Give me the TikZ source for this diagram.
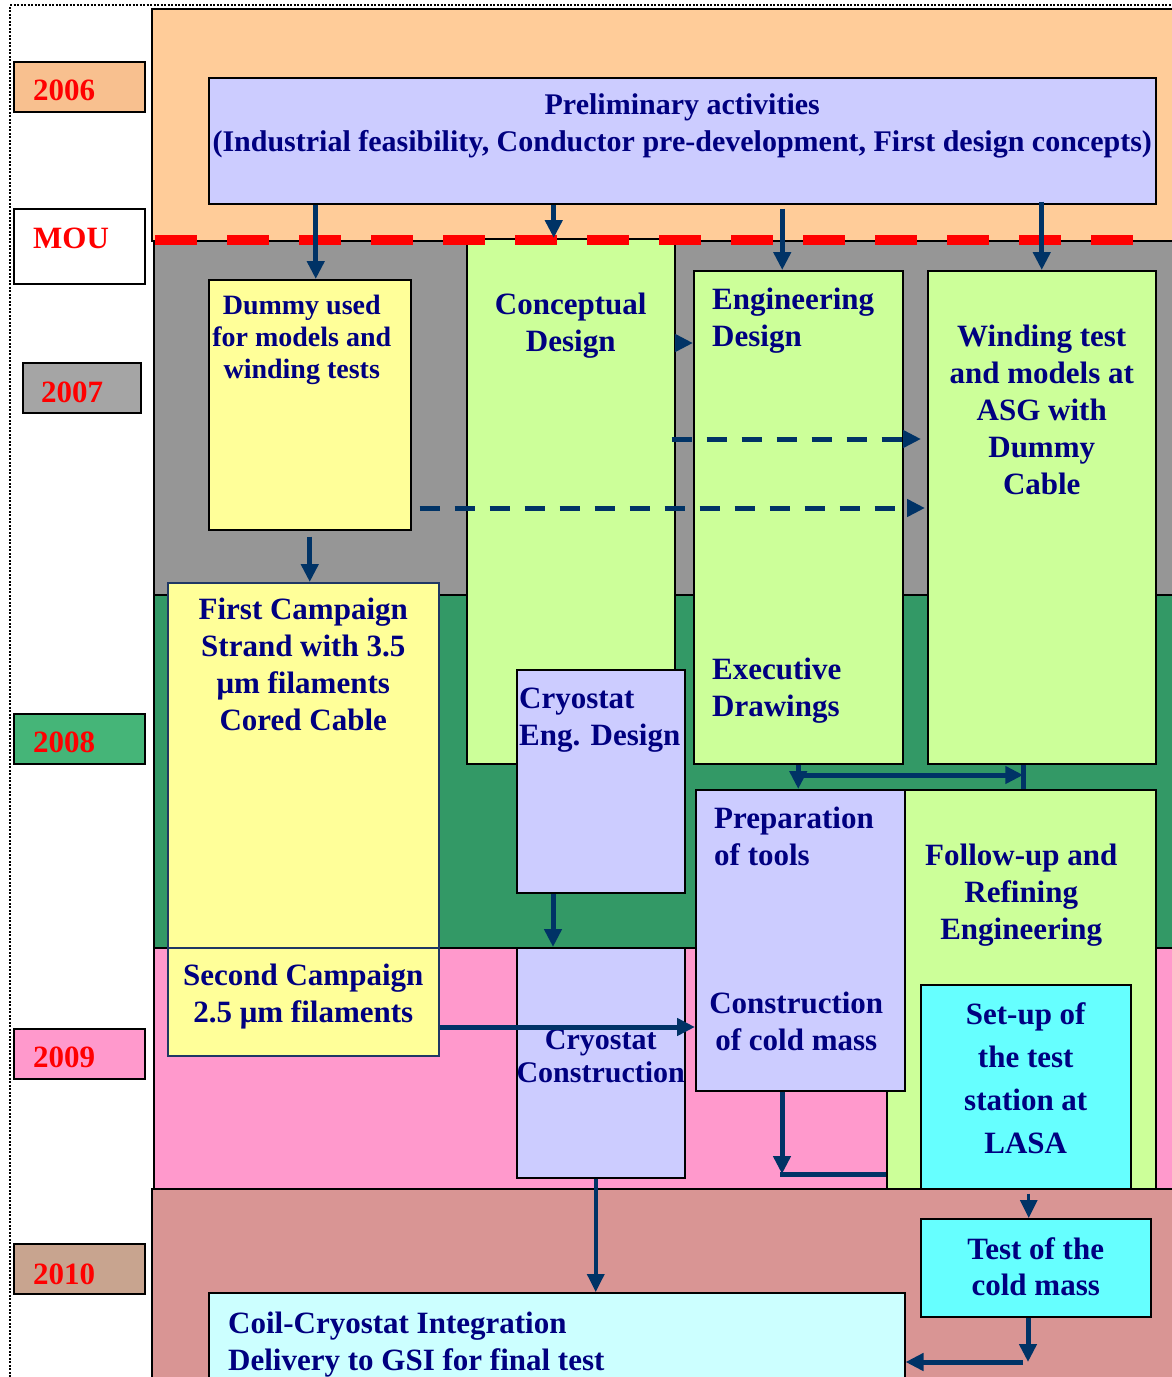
\documentclass[tikz,border=0pt]{standalone}
\usepackage{fontspec}
\setmainfont{Liberation Serif}
\usetikzlibrary{positioning,arrows.meta}
\usepackage{xcolor}

\definecolor{band06}{HTML}{FFCC99}
\definecolor{band07}{HTML}{969696}
\definecolor{band08}{HTML}{339966}
\definecolor{band09}{HTML}{FF99CC}
\definecolor{band10}{HTML}{D99594}
\definecolor{yr06}{HTML}{F8C08F}
\definecolor{yr07}{HTML}{A5A5A5}
\definecolor{yr08}{HTML}{45B578}
\definecolor{yr10}{HTML}{C8A48F}
\definecolor{lav}{HTML}{CCCCFF}
\definecolor{lemon}{HTML}{FFFF99}
\definecolor{lime}{HTML}{CCFF99}
\definecolor{aqua}{HTML}{66FFFF}
\definecolor{paleaqua}{HTML}{CCFFFF}
\definecolor{navytxt}{HTML}{000080}
\definecolor{flowblue}{HTML}{003366}
\definecolor{edgeblue}{HTML}{1F3864}

\begin{document}
\begin{tikzpicture}[x=1pt, y=-1pt, every node/.style={inner sep=0pt},
    band/.style={draw, line width=1.5pt, anchor=north west},
    stagebox/.style={draw, line width=1.5pt, anchor=north west},
    yearbox/.style={draw, line width=2pt, anchor=north west, minimum height=50pt},
    yeartxt/.style={font=\fontsize{31}{37}\selectfont\bfseries, text=red},
    txt/.style={font=\fontsize{31}{37}\selectfont\bfseries, text=navytxt, align=center},
    ltxt/.style={txt, align=left},
    flow/.style={draw=flowblue, line width=5pt},
    arr/.style={flow, -{Triangle[length=18pt,width=17pt]}},
    dasharr/.style={arr, dash pattern=on 20pt off 15pt}]
    \useasboundingbox (0,0) rectangle (1171,1377);
    \fill[white] (0,0) rectangle (1171,1377);

    % year bands
    \node[band, fill=band06, minimum width=1024pt, minimum height=232pt] (b06) at (151,8) {};
    \node[band, fill=band07, minimum width=1022pt, minimum height=354pt] (b07) at (153,240) {};
    \node[band, fill=band08, minimum width=1022pt, minimum height=353pt] (b08) at (153,594) {};
    \node[band, fill=band09, minimum width=1022pt, minimum height=241pt] (b09) at (153,947) {};
    \node[band, fill=band10, minimum width=1024pt, minimum height=212pt] (b10) at (151,1188) {};
    \draw[line width=2.5pt, dash pattern=on 2pt off 1.5pt] (10,1377) -- (10,5) -- (1171,5);

    % year labels
    \node[yearbox, fill=yr06, minimum width=131pt] (y06) at (13,61) {};
    \node[yeartxt, right=20pt of y06.west, yshift=-3pt] (t06) {2006};
    \node[yearbox, fill=white, minimum width=131pt, minimum height=75pt] (mou) at (13,208) {};
    \node[yeartxt, right=20pt of mou.west, yshift=8.5pt] (tmou) {MOU};
    \node[yearbox, fill=yr07, minimum width=118pt] (y07) at (22,362) {};
    \node[yeartxt, right=19pt of y07.west, yshift=-4pt] (t07) {2007};
    \node[yearbox, fill=yr08, minimum width=131pt] (y08) at (13,713) {};
    \node[yeartxt, right=20pt of y08.west, yshift=-3.5pt] (t08) {2008};
    \node[yearbox, fill=band09, minimum width=131pt] (y09) at (13,1028) {};
    \node[yeartxt, right=20pt of y09.west, yshift=-3pt] (t09) {2009};
    \node[yearbox, fill=yr10, minimum width=131pt] (y10) at (13,1243) {};
    \node[yeartxt, right=20pt of y10.west, yshift=-5pt] (t10) {2010};

    % activities
    \node[stagebox, fill=lav, minimum width=947pt, minimum height=126pt] (prelim) at (208,77) {};
    \node[txt, font=\fontsize{30}{37}\selectfont\bfseries, below=16pt of prelim.north] (prelimtxt) {Preliminary activities\\(Industrial feasibility, Conductor pre-development, First design concepts)};
    \node[stagebox, fill=lemon, minimum width=202pt, minimum height=250pt] (dummy) at (208,279) {};
    \node[txt, font=\fontsize{28}{32}\selectfont\bfseries, below=16pt of dummy.north, xshift=-8pt] (dummytxt) {Dummy used\\for models and\\winding tests};
    \node[stagebox, fill=lime, minimum width=208pt, minimum height=525pt] (concept) at (466,238) {};
    \node[txt, below=55pt of concept.north] (concepttxt) {Conceptual\\Design};
    \node[stagebox, fill=lime, minimum width=209pt, minimum height=493pt] (engdes) at (693,270) {};
    \node[ltxt, below right=18pt and 19pt of engdes.north west] (engdestxt) {Engineering\\Design};
    \node[ltxt, below right=388pt and 19pt of engdes.north west] (exectxt) {Executive\\Drawings};
    \node[stagebox, fill=lime, minimum width=228pt, minimum height=493pt] (winding) at (927,270) {};
    \node[txt, below=55pt of winding.north] (windingtxt) {Winding test\\and models at\\ASG with\\Dummy\\Cable};
    \node[stagebox, fill=lemon, draw=edgeblue, minimum width=271pt, minimum height=365pt] (first) at (167,582) {};
    \node[txt, below=16pt of first.north] (firsttxt) {First Campaign\\Strand with 3.5\\μm filaments\\Cored Cable};
    \node[stagebox, fill=lemon, draw=edgeblue, minimum width=271pt, minimum height=108pt] (second) at (167,947) {};
    \node[txt, below=17pt of second.north] (secondtxt) {Second Campaign\\2.5 μm filaments};
    \node[stagebox, fill=lav, minimum width=168pt, minimum height=223pt] (cryoeng) at (516,669) {};
    \node[ltxt, below right=19pt and 3pt of cryoeng.north west] (cryoengtxt) {Cryostat\\Eng. Design};
    \node[stagebox, fill=lav, minimum width=168pt, minimum height=230pt] (cryocon) at (516,947) {};
    \node[txt, font=\fontsize{30}{33}\selectfont\bfseries, below=82pt of cryocon.north] (cryocontxt) {Cryostat\\Construction};
    \node[stagebox, fill=lime, minimum width=269pt, minimum height=399pt] (follow) at (886,789) {};
    \node[txt, below=55pt of follow.north] (followtxt) {Follow-up and\\Refining\\Engineering};
    \node[stagebox, fill=lav, minimum width=209pt, minimum height=301pt] (prep) at (695,789) {};
    \node[ltxt, below right=18pt and 19pt of prep.north west] (preptxt) {Preparation\\of tools};
    \node[txt, below=203pt of prep.north, xshift=-4pt] (massstxt) {Construction\\of cold mass};
    \node[stagebox, fill=aqua, minimum width=210pt, minimum height=204pt] (setup) at (920,984) {};
    \node[txt, font=\fontsize{31}{43}\selectfont\bfseries, below=18pt of setup.north] (setuptxt) {Set-up of\\the test\\station at\\LASA};
    \node[stagebox, fill=aqua, minimum width=230pt, minimum height=98pt] (test) at (920,1218) {};
    \node[txt, font=\fontsize{31}{36}\selectfont\bfseries, below=19pt of test.north] (testtxt) {Test of the\\cold mass};
    \node[stagebox, fill=paleaqua, minimum width=696pt, minimum height=120pt] (coil) at (208,1292) {};
    \node[ltxt, below right=20pt and 20pt of coil.north west] (coiltxt) {Coil-Cryostat Integration\\Delivery to GSI for final test};

    % MOU milestone
    \draw[red, line width=10pt, dash pattern=on 42pt off 30pt] (155,240) -- (1140,240);

    % flow
    \draw[arr] ([xshift=6pt]dummy.north |- prelim.south) -- ([xshift=6pt]dummy.north);
    \draw[arr] ([xshift=-17pt]concept.north |- prelim.south) -- ([xshift=-17pt]concept.north);
    \draw[arr] ([xshift=-16pt,yshift=-4pt]engdes.north |- prelim.south) -- ([xshift=-16pt]engdes.north);
    \draw[arr] ([yshift=3pt]winding.north |- prelim.south) -- (winding.north);
    \draw[arr] (concept.east |- 0,343) -- (engdes.west |- 0,343);
    \draw[dasharr] ([xshift=-4pt]concept.east |- 0,439) -- ([xshift=-6pt]winding.west |- 0,439);
    \draw[dasharr] ([xshift=8pt]dummy.east |- 0,508) -- ([xshift=-2pt]winding.west |- 0,508);
    \draw[arr] ([yshift=-6pt]dummy.south) -- (dummy.south |- first.north);
    \draw[arr] (cryoeng.south -| 553,0) -- (cryocon.north -| 553,0);
    \draw[arr] (second.east |- 0,1027) -- (prep.west |- 0,1027);
    \draw[arr] (engdes.south) -- (engdes.south |- prep.north);
    \draw[flow] ([xshift=2pt]follow.north |- winding.south) -- ([xshift=2pt]follow.north);
    \draw[arr] (engdes.south |- 0,775) -- ([xshift=2pt]follow.north |- 0,775);
    \coordinate (elbow) at (782,1174);
    \draw[arr] (prep.south -| elbow) -- (elbow);
    \draw[flow] (follow.west |- elbow) -- ([xshift=-2pt]elbow);
    \draw[arr, line width=3.5pt] ([xshift=-5pt]cryocon.south) -- ([xshift=-5pt]cryocon.south |- coil.north);
    \draw[arr, line width=3pt] ([xshift=3pt,yshift=-4pt]setup.south) -- ([xshift=3pt]setup.south |- test.north);
    \coordinate (tcorner) at (1028,1362);
    \draw[arr] (test.south -| tcorner) -- (tcorner);
    \draw[arr] ([xshift=-5pt]tcorner) -- (coil.east |- tcorner);
\end{tikzpicture}
\end{document}
